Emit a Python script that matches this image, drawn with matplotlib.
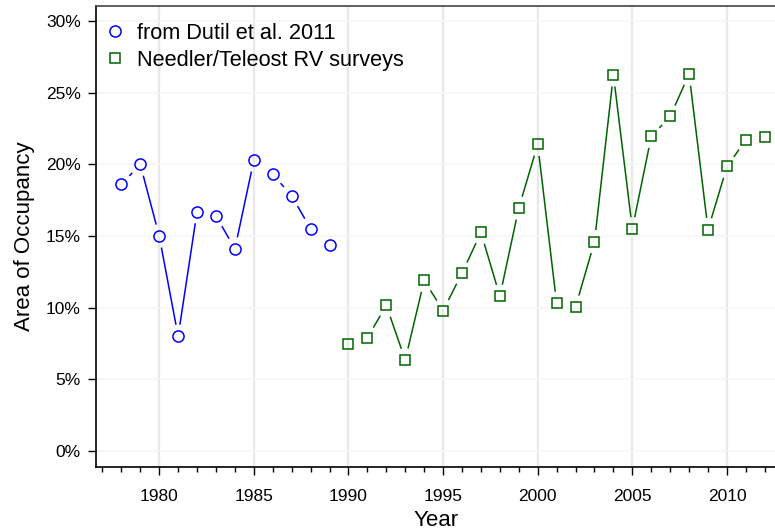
import numpy as np
import matplotlib.pyplot as plt
from matplotlib.ticker import MultipleLocator, FuncFormatter

plt.rcParams['font.family'] = ['Liberation Sans', 'DejaVu Sans']

# Area of occupancy (%) by year
dutil_years = list(range(1978, 1990))
dutil_aoo = [18.6, 20.0, 15.0, 8.0, 16.7, 16.4, 14.1, 20.3, 19.3, 17.8, 15.5, 14.4]

rv_years = list(range(1990, 2013))
rv_aoo = [7.45, 7.9, 10.15, 6.35, 11.9, 9.8, 12.4, 15.25, 10.8, 16.95, 21.4,
          10.3, 10.05, 14.6, 26.25, 15.5, 21.95, 23.35, 26.3, 15.45, 19.85,
          21.7, 21.9]

fig = plt.figure(figsize=(7.75, 5.31), dpi=100)
ax = fig.add_axes([96 / 775, 64 / 531, 1 - 96 / 775 + 0.002, (466 - 5) / 531])
ax.set_xlim(1976.66, 2012.62)
ax.set_ylim(-1.12, 31.05)

# light grid
for yr in range(1980, 2015, 5):
    ax.axvline(yr, color='#e8e8e8', lw=1.6, zorder=0)
for p in range(0, 35, 5):
    ax.axhline(p, color='#f6f6f6', lw=1.2, zorder=0)


def gapped_line(x, y, color, gap=12.5):
    # R-style type="b": segments stop short of each point
    pts = ax.transData.transform(np.column_stack([x, y]))
    inv = ax.transData.inverted()
    for a, b in zip(pts[:-1], pts[1:]):
        d = b - a
        L = np.hypot(*d)
        if L <= 2 * gap:
            continue
        u = d / L
        seg = inv.transform(np.array([a + u * gap, b - u * gap]))
        ax.plot(seg[:, 0], seg[:, 1], color=color, lw=1.1, zorder=2)


gapped_line(dutil_years, dutil_aoo, '#0000ff')
gapped_line(rv_years, rv_aoo, '#006400')

ax.plot(dutil_years, dutil_aoo, ls='none', marker='o', ms=8, mfc='none',
        mec='#0000ff', mew=1.1, zorder=3, label='from Dutil et al. 2011')
ax.plot(rv_years, rv_aoo, ls='none', marker='s', ms=7.5, mfc='none',
        mec='#006400', mew=1.1, zorder=3, label='Needler/Teleost RV surveys')

ax.legend(loc='upper left', frameon=False, fontsize=15.7, handletextpad=0.6,
          handlelength=0.8, labelspacing=0.28, borderaxespad=0.1,
          borderpad=0.3, bbox_to_anchor=(0.003, 0.983))

ax.xaxis.set_major_locator(MultipleLocator(5))
ax.xaxis.set_minor_locator(MultipleLocator(1))
ax.yaxis.set_major_locator(MultipleLocator(5))
ax.yaxis.set_major_formatter(FuncFormatter(lambda v, p: f'{v:.0f}%'))
ax.tick_params(axis='x', which='major', length=6, width=1, labelsize=12.5, pad=10)
ax.tick_params(axis='x', which='minor', length=3.5, width=1)
ax.tick_params(axis='y', which='major', length=6, width=1, labelsize=12.5, pad=5)

ax.spines['right'].set_visible(False)
ax.spines['top'].set_color('#444444')
for s in ['left', 'bottom', 'top']:
    ax.spines[s].set_linewidth(1.2)

ax.set_xlabel('Year', fontsize=16, labelpad=4)
ax.set_ylabel('Area of Occupancy', fontsize=16, labelpad=8)

fig.savefig('out.png', dpi=100)
